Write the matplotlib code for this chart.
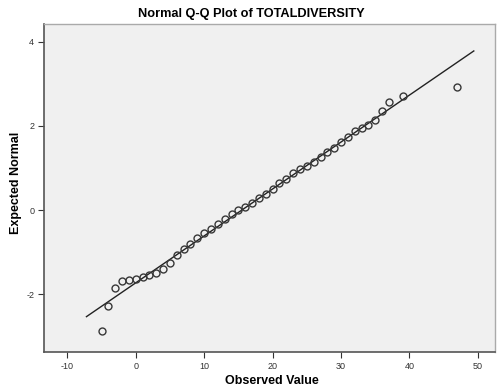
import matplotlib
matplotlib.use("Agg")
import matplotlib.pyplot as plt

# ── Data ─────────────────────────────────────────────────────────────────────
observed = [-5, -4, -3, -2, -1, 0, 1, 2, 3, 4, 5, 6, 7, 8, 9, 10, 11, 12, 13,
            14, 15, 16, 17, 18, 19, 20, 21, 22, 23, 24, 25, 26, 27, 28, 29, 30,
            31, 32, 33, 34, 35, 36, 37, 39, 47]
expected = [-2.88, -2.28, -1.86, -1.69, -1.66, -1.63, -1.58, -1.54, -1.49,
            -1.40, -1.25, -1.07, -0.93, -0.81, -0.67, -0.55, -0.46, -0.34,
            -0.22, -0.09, 0.01, 0.08, 0.17, 0.29, 0.39, 0.50, 0.65, 0.75, 0.87,
            0.97, 1.05, 1.15, 1.25, 1.37, 1.48, 1.62, 1.73, 1.88, 1.96, 2.03,
            2.15, 2.36, 2.56, 2.71, 2.93]
line_x = [-7.2, 49.4]
line_y = [-2.53, 3.78]
x_ticks = [-10, 0, 10, 20, 30, 40, 50]
y_ticks = [-2, 0, 2, 4]

plt.rcParams["font.family"] = ["Liberation Sans", "DejaVu Sans"]
plt.rcParams["axes.unicode_minus"] = False

fig = plt.figure(figsize=(4.98, 3.91), dpi=100)
ax = fig.add_axes([0.0884, 0.0997, 0.9056, 0.8389])
ax.set_facecolor("#f0f0f0")

ax.plot(line_x, line_y, color="#222222", linewidth=1.0, zorder=2)
ax.plot(observed, expected, linestyle="none", marker="o", markersize=5,
        markerfacecolor="none", markeredgecolor="#383838",
        markeredgewidth=1.0, zorder=3)

ax.set_xlim(-13.4, 52.5)
ax.set_ylim(-3.37, 4.42)
ax.set_xticks(x_ticks)
ax.set_yticks(y_ticks)
ax.tick_params(direction="out", length=4, width=0.8, labelsize=6.5,
               colors="#333333", pad=3)

for side in ["left", "bottom"]:
    ax.spines[side].set_color("#555555")
    ax.spines[side].set_linewidth(1.2)
for side in ["top", "right"]:
    ax.spines[side].set_color("#aaaaaa")
    ax.spines[side].set_linewidth(1.0)

fig.text(251 / 498, 1 - 14 / 391, "Normal Q-Q Plot of TOTALDIVERSITY",
         fontsize=9.2, fontweight="bold", ha="center", va="center")
fig.text(272 / 498, 1 - 381 / 391, "Observed Value", fontsize=9,
         fontweight="bold", ha="center", va="center")
fig.text(16 / 498, 1 - 183 / 391, "Expected Normal", fontsize=9,
         fontweight="bold", ha="center", va="center", rotation=90)

fig.savefig("out.png", dpi=100)
